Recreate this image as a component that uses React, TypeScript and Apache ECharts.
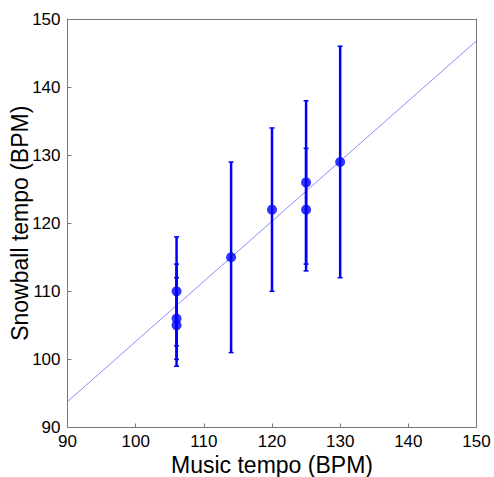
import React, { useEffect, useRef } from "react";
import * as echarts from "echarts";

const musicTempo = [106, 106, 106, 114, 120, 125, 125, 130];
const snowballTempo = [110, 106, 105, 115, 122, 126, 122, 129];
const errLow = [102, 99, 100, 101, 110, 114, 113, 112];
const errHigh = [118, 114, 112, 129, 134, 138, 131, 146];
const fitLine = [
  [90, 93.8],
  [150, 146.8],
];
const xTicks = [90, 100, 110, 120, 130, 140, 150];
const yTicks = [90, 100, 110, 120, 130, 140, 150];

export default function App() {
  const ref = useRef<HTMLDivElement>(null);
  useEffect(() => {
    if (!ref.current) return;
    const chart = echarts.init(ref.current, null, { renderer: "svg" });
    const font = "Arial, 'Liberation Sans', Helvetica, sans-serif";
    const errData = musicTempo.map((x, i) => [x, errLow[i], errHigh[i]]);
    const axisCommon = {
      type: "value" as const,
      min: 90,
      max: 150,
      interval: 10,
      axisLine: { show: true, lineStyle: { color: "#7a7a7a", width: 1 } },
      axisTick: { show: true, inside: true, length: 4, lineStyle: { color: "#7a7a7a" } },
      splitLine: { show: false },
    };
    chart.setOption({
      animation: false,
      backgroundColor: "#ffffff",
      grid: { left: 67.5, top: 19, right: 17.5, bottom: 49.5, containLabel: false, outerBoundsMode: "none" },
      xAxis: [
        {
          ...axisCommon,
          position: "bottom",
          name: "Music tempo (BPM)",
          nameLocation: "middle",
          nameGap: 26,
          nameMoveOverlap: false,
          nameTextStyle: { fontFamily: font, fontSize: 23, lineHeight: 23, color: "#000" },
          axisLabel: { fontFamily: font, fontSize: 17, lineHeight: 17, color: "#000", margin: 5, formatter: (v: number) => (xTicks.includes(v) ? String(v) : "") },
        },
        {
          ...axisCommon,
          position: "top",
          axisTick: { show: false },
          axisLabel: { show: false },
        },
      ],
      yAxis: [
        {
          ...axisCommon,
          position: "left",
          name: "Snowball tempo (BPM)",
          nameLocation: "middle",
          nameGap: 36,
          nameMoveOverlap: false,
          nameTextStyle: { fontFamily: font, fontSize: 23, lineHeight: 23, color: "#000" },
          axisLabel: { fontFamily: font, fontSize: 17, lineHeight: 17, color: "#000", margin: 7, formatter: (v: number) => (yTicks.includes(v) ? String(v) : "") },
        },
        {
          ...axisCommon,
          position: "right",
          axisTick: { show: false },
          axisLabel: { show: false },
        },
      ],
      series: [
        {
          type: "line",
          data: fitLine,
          symbol: "none",
          lineStyle: { color: "#7070ff", width: 0.8 },
          z: 1,
        },
        {
          type: "custom",
          data: errData,
          z: 2,
          renderItem: (params: any, api: any) => {
            const x = api.value(0);
            const lo = api.coord([x, api.value(1)]);
            const hi = api.coord([x, api.value(2)]);
            const cw = 2.5;
            const style = { stroke: "#0000ff", lineWidth: 2.5, fill: "none" };
            const capStyle = { stroke: "#0000ff", lineWidth: 1.5, fill: "none" };
            return {
              type: "group",
              children: [
                { type: "line", shape: { x1: lo[0], y1: lo[1], x2: hi[0], y2: hi[1] }, style },
                { type: "line", shape: { x1: lo[0] - cw, y1: lo[1], x2: lo[0] + cw, y2: lo[1] }, style: capStyle },
                { type: "line", shape: { x1: hi[0] - cw, y1: hi[1], x2: hi[0] + cw, y2: hi[1] }, style: capStyle },
              ],
            };
          },
        },
        {
          type: "scatter",
          data: musicTempo.map((x, i) => [x, snowballTempo[i]]),
          symbol: "circle",
          symbolSize: 10,
          itemStyle: { color: "#0000ff" },
          z: 3,
        },
      ],
    });
    return () => chart.dispose();
  }, []);
  return (
    <div
      ref={ref}
      style={{ position: "fixed", left: 0, top: 0, width: 494, height: 477, background: "#fff" }}
    />
  );
}
